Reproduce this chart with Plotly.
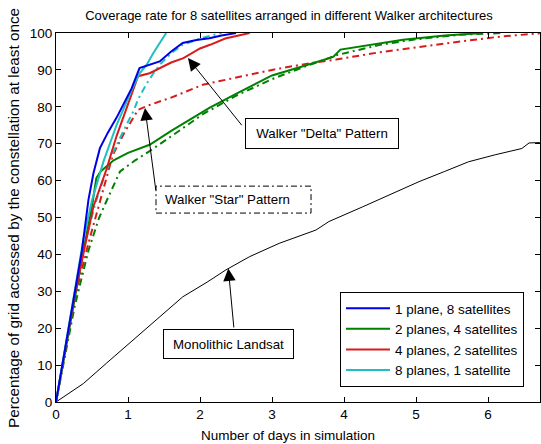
import plotly.graph_objects as go

# ---------------- data ----------------
blue_x = [0, 0.12, 0.25, 0.36, 0.45, 0.52, 0.61, 0.72, 0.84, 0.95, 1.05, 1.16, 1.30, 1.44, 1.60, 1.76, 1.95, 2.13, 2.30, 2.50]
blue_y = [0, 14, 29, 41, 54.7, 62, 68.8, 73, 77, 81, 85, 90.5, 91.5, 92.3, 95, 97.3, 98.1, 98.6, 99.3, 100]

cyan_x = [0, 0.12, 0.26, 0.38, 0.50, 0.58, 0.66, 0.84, 0.95, 1.05, 1.16, 1.26, 1.35, 1.45, 1.53]
cyan_y = [0, 14, 30.4, 44, 54.7, 60, 65.2, 75, 80, 84.5, 89, 91.4, 94.5, 97.5, 100]

cyan_star_x = [0, 0.12, 0.26, 0.40, 0.55, 0.65, 0.79, 0.95, 1.08, 1.14, 1.25, 1.35, 1.44, 1.60, 1.76, 2.00, 2.30]
cyan_star_y = [0, 13.5, 29, 43, 54, 60, 67.5, 74, 79, 82, 86, 89, 91.4, 94.5, 96.8, 98.5, 100]

red_x = [0, 0.12, 0.26, 0.40, 0.52, 0.61, 0.70, 0.84, 0.95, 1.05, 1.14, 1.30, 1.45, 1.60, 1.77, 2.00, 2.14, 2.35, 2.69]
red_y = [0, 13.5, 29, 42, 53, 58, 63, 72, 78, 83, 88.3, 89.1, 90.5, 92, 93.2, 95.8, 96.8, 98.5, 100]

red_star_x = [0, 0.12, 0.26, 0.45, 0.61, 0.79, 0.95, 1.08, 1.14, 1.30, 1.60, 2.04, 2.50, 3.00, 3.52, 3.89, 4.50, 5.00, 5.46, 6.20, 6.72]
red_star_y = [0, 13, 28, 43, 54.5, 67, 73, 77.5, 79.2, 80.5, 82.5, 86, 88, 90, 91.8, 92.8, 94.8, 96, 97.3, 99.1, 99.9]

green_x = [0, 0.12, 0.26, 0.40, 0.50, 0.56, 0.62, 0.80, 1.00, 1.30, 1.60, 2.13, 2.50, 3.00, 3.43, 3.85, 3.95, 4.40, 4.82, 5.40, 5.93]
green_y = [0, 13, 28.5, 43, 53, 60.7, 62.5, 65.5, 67.5, 69.7, 73.5, 79.7, 83.5, 88.5, 91, 93.5, 95.5, 96.8, 98.2, 99.3, 100]

green_star_x = [0, 0.12, 0.26, 0.45, 0.60, 0.70, 0.80, 0.89, 1.10, 1.30, 1.60, 2.04, 2.50, 3.00, 3.40, 3.90, 4.50, 5.00, 5.60, 6.20]
green_star_y = [0, 12, 26, 41, 50, 54.4, 58.5, 62.5, 65.5, 68, 72, 78, 83, 87.5, 90.5, 94, 96.8, 98.3, 99.5, 100]

landsat_x = [0, 0.38, 0.70, 1.07, 1.40, 1.76, 2.10, 2.36, 2.69, 3.10, 3.61, 3.79, 4.26, 4.65, 5.04, 5.40, 5.73, 6.10, 6.47, 6.57, 6.72]
landsat_y = [0, 5, 10.5, 16.8, 22.5, 28.5, 32.5, 35.8, 39.4, 43, 46.6, 48.9, 52.9, 56.3, 59.7, 62.5, 65.1, 67, 68.7, 70.2, 70.3]

x_ticks = [0, 1, 2, 3, 4, 5, 6]
y_ticks = [0, 10, 20, 30, 40, 50, 60, 70, 80, 90, 100]

legend_names = ["1 plane, 8 satellites", "2 planes, 4 satellites",
                "4 planes, 2 satellites", "8 planes, 1 satellite"]

# ---------------- styling ----------------
BLUE = "#0000e6"
GREEN = "#008000"
RED = "#d81c1c"
CYAN = "#1fbfbf"
DASHDOT = "7px,4px,2px,4px"
FONT = "Liberation Sans, Arial, sans-serif"

fig = go.Figure()

# Landsat (black thin)
fig.add_trace(go.Scatter(x=landsat_x, y=landsat_y, mode="lines",
                         line=dict(color="black", width=1), showlegend=False))

# Star patterns (dash-dot)
fig.add_trace(go.Scatter(x=green_star_x, y=green_star_y, mode="lines",
                         line=dict(color=GREEN, width=2, dash=DASHDOT), showlegend=False))
fig.add_trace(go.Scatter(x=red_star_x, y=red_star_y, mode="lines",
                         line=dict(color=RED, width=2, dash=DASHDOT), showlegend=False))
fig.add_trace(go.Scatter(x=cyan_star_x, y=cyan_star_y, mode="lines",
                         line=dict(color=CYAN, width=2, dash=DASHDOT), showlegend=False))

# Delta patterns (solid) - in legend
fig.add_trace(go.Scatter(x=green_x, y=green_y, mode="lines", name=legend_names[1],
                         line=dict(color=GREEN, width=2), legendrank=2))
fig.add_trace(go.Scatter(x=red_x, y=red_y, mode="lines", name=legend_names[2],
                         line=dict(color=RED, width=2), legendrank=3))
fig.add_trace(go.Scatter(x=cyan_x, y=cyan_y, mode="lines", name=legend_names[3],
                         line=dict(color=CYAN, width=2), legendrank=4))
fig.add_trace(go.Scatter(x=blue_x, y=blue_y, mode="lines", name=legend_names[0],
                         line=dict(color=BLUE, width=2), legendrank=1))

L, R, T, B = 56, 1, 33, 42
W, H = 541, 444
xmax = (W - R - L) / 72.0

axis_common = dict(showline=True, linecolor="black", linewidth=1, mirror="ticks",
                   ticks="inside", ticklen=5, tickcolor="black", showgrid=False,
                   zeroline=False, tickfont=dict(size=13.5, color="black", family=FONT))

fig.update_layout(
    width=W, height=H,
    margin=dict(l=L, r=R, t=T, b=B, pad=0),
    paper_bgcolor="white", plot_bgcolor="white",
    font=dict(family=FONT, color="black", size=13),
    title=dict(text="Coverage rate for 8 satellites arranged in different Walker architectures",
               x=(289 - L) / (W - L - R), xref="paper", xanchor="center",
               y=1 - 15 / H, yref="container", yanchor="middle",
               font=dict(size=13, family=FONT, color="black")),
    xaxis=dict(range=[0, xmax], tickvals=x_ticks, **axis_common),
    yaxis=dict(range=[0, 100], tickvals=y_ticks, **axis_common),
    legend=dict(x=(340 - L) / (W - L - R), y=(402 - 292) / 369, xanchor="left", yanchor="top",
                bordercolor="black", borderwidth=1, bgcolor="white",
                font=dict(size=13.5, family=FONT, color="black"),
                itemwidth=44, tracegroupgap=0),
    showlegend=True,
)

# axis titles as annotations (positioned like the reference)
fig.add_annotation(text="Number of days in simulation", xref="paper", yref="paper",
                   x=(288 - L) / (W - L - R), y=(402 - 435) / 369, xanchor="center", yanchor="middle",
                   showarrow=False, font=dict(size=13.5, family=FONT, color="black"))
fig.add_annotation(text="Percentage of grid accessed by the constellation at least once",
                   xref="paper", yref="paper", x=(14 - L) / (W - L - R), y=(402 - 218) / 369,
                   xanchor="center", yanchor="middle", textangle=-90,
                   showarrow=False, font=dict(size=15.3, family=FONT, color="black"))

# text boxes
box_font = dict(size=13.3, family=FONT, color="black")
fig.add_annotation(text='Walker "Delta" Pattern', xref="x", yref="y", x=3.69, y=72.9,
                   showarrow=False, bordercolor="black", borderwidth=1, bgcolor="white",
                   width=148, height=25, borderpad=2, font=box_font)
fig.add_annotation(text='Walker "Star" Pattern', xref="x", yref="y", x=2.375, y=54.9,
                   showarrow=False, borderpad=2, font=box_font)
fig.add_annotation(text='Monolithic Landsat', xref="x", yref="y", x=2.39, y=15.8,
                   showarrow=False, bordercolor="black", borderwidth=1, bgcolor="white",
                   width=125, height=24, borderpad=2, font=box_font)
fig.add_shape(type="rect", xref="x", yref="y", x0=1.389, x1=3.542, y0=51.2, y1=58.5,
              line=dict(color="black", width=1, dash="6px,3px,2px,3px"))

# arrows
arrows = [((1.833, 93.2), (2.597, 74.6)),
          ((1.236, 79.7), (1.389, 57.0)),
          ((2.393, 36.2), (2.472, 19.8))]
for (tx, ty), (sx, sy) in arrows:
    fig.add_annotation(text="", x=tx, y=ty, ax=sx, ay=sy, xref="x", yref="y",
                       axref="x", ayref="y", showarrow=True, arrowhead=2,
                       arrowsize=2.5, arrowwidth=1, arrowcolor="black", standoff=0, startstandoff=0)

fig.write_html("out.html")
